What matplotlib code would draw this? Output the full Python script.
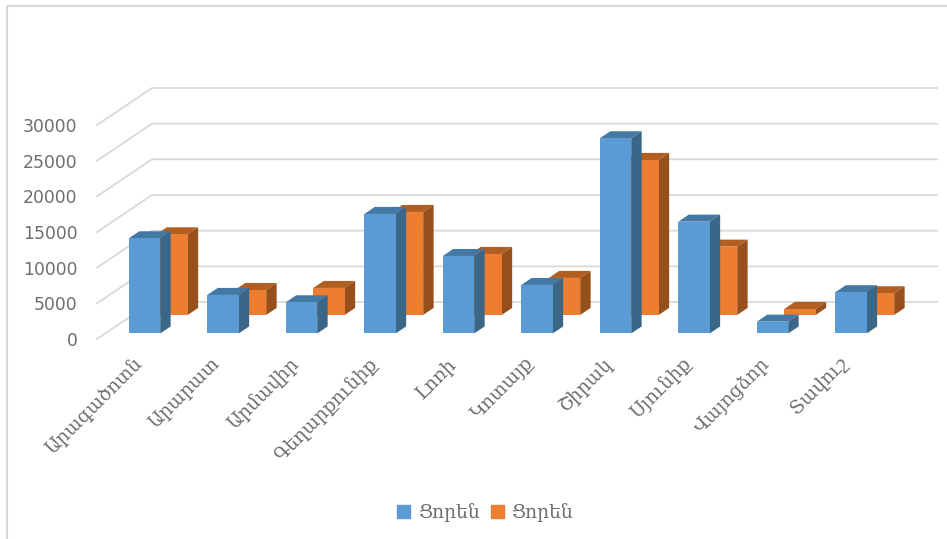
import numpy as np
import matplotlib
matplotlib.use('Agg')
import matplotlib.pyplot as plt
from matplotlib.lines import Line2D
from matplotlib.patches import Patch
from matplotlib.transforms import ScaledTranslation

W, H = 947, 539

marz = ['Արագածոտն', 'Արարատ', 'Արմավիր', 'Գեղարքունիք', 'Լոռի',
        'Կոտայք', 'Շիրակ', 'Սյունիք', 'Վայոցձոր', 'Տավուշ']
ser_front = [13340, 5400, 4370, 16750, 10860, 6800, 27360, 15670, 1650, 5775]
ser_back = [11300, 3500, 3785, 14440, 8550, 5190, 21730, 9575, 840, 3040]
ser_name = 'Ցորեն'
y_ticks = [0, 5000, 10000, 15000, 20000, 25000, 30000]

# 3d look: a depth of 1 moves this much in data units
dx_depth = 55 / 78.5
dy_depth = 37 / 214 * 30000
bar_w = 0.40
bar_d = 0.19

c_grid = '#d9d9d9'
c_text = '#6e6e6e'

fig = plt.figure(figsize=(W / 100, H / 100), dpi=100)
ax = fig.add_axes([97 / W, (H - 339) / H, 785 / W, 214 / H])
ax.set_xlim(-0.5, 9.5)
ax.set_ylim(0, 30000)
for s in ax.spines.values():
    s.set_visible(False)
ax.patch.set_visible(False)


def draw_bars(vals, d0, front, top, side, z):
    sx = dx_depth * d0
    sy = dy_depth * d0
    ax.bar(np.arange(len(vals)) + sx, vals, bar_w, bottom=sy, color=front,
           clip_on=False, zorder=z + 0.2)
    ox = dx_depth * bar_d
    oy = dy_depth * bar_d
    for i, v in enumerate(vals):
        x0 = i + sx - bar_w / 2
        x1 = i + sx + bar_w / 2
        y0 = sy
        y1 = sy + v
        ax.fill([x0, x1, x1 + ox, x0 + ox], [y1, y1, y1 + oy, y1 + oy],
                color=top, lw=0, clip_on=False, zorder=z)
        ax.fill([x1, x1 + ox, x1 + ox, x1], [y0, y0 + oy, y1 + oy, y1],
                color=side, lw=0, clip_on=False, zorder=z)


# walls
for v in y_ticks:
    ax.plot([-0.5, -0.5 + dx_depth, 9.5 + dx_depth],
            [v, v + dy_depth, v + dy_depth],
            color=c_grid, lw=1.3, clip_on=False, zorder=1)

draw_bars(ser_back, 0.65, '#ed7d31', '#b25e20', '#97501b', 2)
draw_bars(ser_front, 0.15, '#5b9bd5', '#4478a5', '#3a6688', 3)

ax.set_yticks(y_ticks)
ax.set_yticklabels([str(v) for v in y_ticks], fontsize=12.4, color=c_text,
                   family=['DejaVu Sans'])
ax.tick_params(axis='y', length=0, pad=14)
ax.set_xticks(np.arange(len(marz)))
ax.set_xticklabels(marz, rotation=45, ha='right', rotation_mode='anchor',
                   fontsize=13.4, color=c_text, family=['DejaVu Serif', 'DejaVu Sans'])
ax.tick_params(axis='x', length=0, pad=11)
# labels sit a bit left of the tick
shift = ScaledTranslation(-4 / 100, 0, fig.dpi_scale_trans)
for lab in ax.get_xticklabels():
    lab.set_transform(lab.get_transform() + shift)

hnd = [Patch(color='#5b9bd5', label=ser_name), Patch(color='#ed7d31', label=ser_name)]
fig.legend(handles=hnd, loc='center', bbox_to_anchor=(485 / W, 1 - 513 / H), ncol=2,
           frameon=False, handlelength=0.7, handleheight=0.7, handletextpad=0.4,
           columnspacing=0.6, labelcolor=c_text,
           prop={'family': ['DejaVu Serif', 'DejaVu Sans'], 'size': 13.4})

# frame of the pasted picture
fig.add_artist(Line2D([7 / W, 7 / W, 1], [0, 1 - 5.5 / H, 1 - 5.5 / H], color='#d9d9d9', lw=1.5))

fig.savefig('out.png', dpi=100)
